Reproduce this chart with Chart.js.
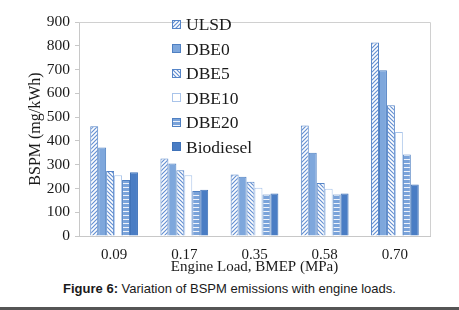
<!DOCTYPE html>
<html>
<head>
<meta charset="utf-8">
<script src="https://cdn.jsdelivr.net/npm/chart.js@4"></script>
<style>
  html, body { margin: 0; padding: 0; background: #fff; }
  #wrap { position: relative; width: 459px; height: 310px; overflow: hidden; }
  #chartBox { position: absolute; left: 0; top: 0; width: 459px; height: 275px; }
  #legend { position: absolute; left: 172px; top: 12px; font-family: "Liberation Serif", serif; font-size: 17.5px; color: #1a1a1a; }
  #legend .item { height: 24.5px; line-height: 24.5px; display: flex; align-items: center; }
  #legend canvas { width: 9px; height: 9px; margin-right: 5px; }
  #caption { position: absolute; left: 0; width: 459px; top: 281px; text-align: center; font-family: "Liberation Sans", Arial, sans-serif; font-size: 13px; color: #1a1a1a; }
  #rule { position: absolute; left: 0; top: 307px; width: 459px; height: 3px; background: #555; }
</style>
</head>
<body>
<div id="wrap">
  <div id="chartBox"><canvas id="chart"></canvas></div>
  <div id="legend"></div>
  <div id="caption"><b>Figure 6:</b> Variation of BSPM emissions with engine loads.</div>
  <div id="rule"></div>
</div>
<script>
// data
const loads = ['0.09', '0.17', '0.35', '0.58', '0.70'];
const seriesNames = ['ULSD', 'DBE0', 'DBE5', 'DBE10', 'DBE20', 'Biodiesel'];
const ulsd      = [462, 326, 259, 465, 814];
const dbe0      = [372, 305, 249, 350, 697];
const dbe5      = [273, 277, 228, 223, 550];
const dbe10     = [255, 255, 203, 199, 437];
const dbe20     = [235, 189, 175, 175, 343];
const biodiesel = [268, 195, 179, 179, 217];
const yTicks    = [0, 100, 200, 300, 400, 500, 600, 700, 800, 900];

// ---------------------------------------------------------------------------
// fill patterns
function makePattern(kind) {
  const c = document.createElement('canvas');
  c.width = 4; c.height = 4;
  const g = c.getContext('2d');
  g.fillStyle = '#ffffff';
  g.fillRect(0, 0, 4, 4);
  g.strokeStyle = '#6590d2';
  g.lineWidth = 1.2;
  g.beginPath();
  if (kind === 'fwd') {
    g.moveTo(-1, 5); g.lineTo(5, -1);
    g.moveTo(-1, 1); g.lineTo(1, -1);
    g.moveTo(3, 5); g.lineTo(5, 3);
  } else if (kind === 'back') {
    g.moveTo(-1, -1); g.lineTo(5, 5);
    g.moveTo(3, -1); g.lineTo(5, 1);
    g.moveTo(-1, 3); g.lineTo(1, 5);
  } else if (kind === 'horiz') {
    g.fillStyle = '#7aa3da';
    g.fillRect(0, 0, 4, 3);
    g.fillStyle = '#eef3fb';
    g.fillRect(0, 3, 4, 1);
  }
  g.stroke();
  return g.createPattern(c, 'repeat');
}

const fills = [
  makePattern('fwd'),
  '#7ea7dc',
  makePattern('back'),
  '#ffffff',
  makePattern('horiz'),
  '#4a7dc4'
];
const borders = ['#5685c8', '#4f80c2', '#5685c8', '#a9c4ea', '#4f80c2', '#3f72b8'];
const values = [ulsd, dbe0, dbe5, dbe10, dbe20, biodiesel];

const datasets = seriesNames.map((name, i) => ({
  label: name,
  data: values[i],
  backgroundColor: fills[i],
  borderColor: borders[i],
  borderWidth: 1,
  barPercentage: 1.0,
  categoryPercentage: 0.68
}));

// light grey frame around the plot area
const framePlugin = {
  id: 'frame',
  beforeDatasetsDraw(chart) {
    const a = chart.chartArea, ctx = chart.ctx;
    ctx.save();
    ctx.strokeStyle = '#d0d0d0';
    ctx.lineWidth = 1;
    ctx.beginPath();
    ctx.moveTo(a.left, a.top + 0.5);
    ctx.lineTo(a.right + 0.5, a.top + 0.5);
    ctx.lineTo(a.right + 0.5, a.bottom);
    ctx.stroke();
    ctx.restore();
  }
};

const serif = '"Liberation Serif", "Times New Roman", serif';

const chart = new Chart(document.getElementById('chart'), {
  type: 'bar',
  data: { labels: loads, datasets: datasets },
  options: {
    responsive: true,
    maintainAspectRatio: false,
    animation: false,
    layout: { padding: { top: 22, right: 29, left: 0, bottom: 0 } },
    plugins: {
      legend: { display: false },
      tooltip: { enabled: false }
    },
    scales: {
      x: {
        grid: { display: false },
        border: { display: true, color: '#c8c8c8' },
        ticks: { color: '#1a1a1a', font: { family: serif, size: 15 }, padding: 2 },
        title: { display: true, text: 'Engine Load, BMEP (MPa)', color: '#1a1a1a',
                 font: { family: serif, size: 15, lineHeight: 1.0 }, padding: { top: -1, bottom: 0 } },
        afterFit: (s) => { s.height = 39; }
      },
      y: {
        min: 0, max: 900,
        afterBuildTicks: (s) => { s.ticks = yTicks.map(v => ({ value: v })); },
        grid: { drawOnChartArea: false, drawTicks: true, tickLength: 4, color: '#c8c8c8' },
        border: { display: true, color: '#c8c8c8' },
        ticks: { color: '#1a1a1a', font: { family: serif, size: 15.5 }, padding: 5 },
        title: { display: true, text: 'BSPM (mg/kWh)', color: '#1a1a1a',
                 font: { family: serif, size: 16, lineHeight: 1.0 }, padding: { top: 28, bottom: 0 } },
        afterFit: (s) => { s.width = 79; }
      }
    }
  },
  plugins: [framePlugin]
});

// html legend stacked inside the plot, built from the datasets
const legendEl = document.getElementById('legend');
chart.data.datasets.forEach((ds) => {
  const item = document.createElement('div');
  item.className = 'item';
  const sw = document.createElement('canvas');
  sw.width = 9; sw.height = 9;
  const g = sw.getContext('2d');
  g.fillStyle = ds.backgroundColor;
  g.fillRect(0, 0, 9, 9);
  g.strokeStyle = ds.borderColor;
  g.lineWidth = 1;
  g.strokeRect(0.5, 0.5, 8, 8);
  const txt = document.createElement('span');
  txt.textContent = ds.label;
  item.appendChild(sw);
  item.appendChild(txt);
  legendEl.appendChild(item);
});
</script>
</body>
</html>
